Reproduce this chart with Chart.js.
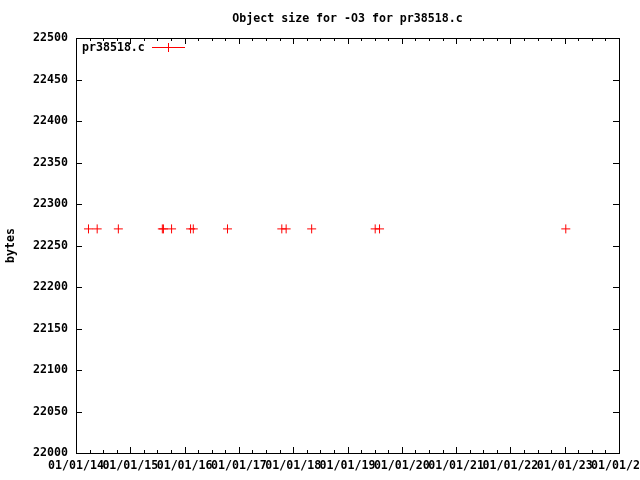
<!DOCTYPE html>
<html>
<head>
<meta charset="utf-8">
<script src="https://cdn.jsdelivr.net/npm/chart.js@4/dist/chart.umd.min.js"></script>
<style>
  body { margin: 0; background: #fff; }
  #wrap { width: 640px; height: 480px; }
</style>
</head>
<body>
<div id="wrap"><canvas id="chart" width="640" height="480"></canvas></div>
<script>
// data (x = decimal year)
var series_name = 'pr38518.c'
var chart_title = 'Object size for -O3 for pr38518.c'
var dates = [2014.23, 2014.39, 2014.78, 2015.59, 2015.61, 2015.76, 2016.11, 2016.16, 2016.79, 2017.79, 2017.87, 2018.34, 2019.51, 2019.59, 2023.02]
var sizes = [22270, 22270, 22270, 22270, 22270, 22270, 22270, 22270, 22270, 22270, 22270, 22270, 22270, 22270, 22270]
var x_range = [2014, 2024]
var y_range = [22000, 22500]

var FONT = 'DejaVu Sans Mono'
Chart.defaults.color = '#000'
Chart.defaults.font.family = FONT
Chart.defaults.font.size = 11.6
Chart.defaults.font.weight = 'bold'

// gnuplot-ish frame: inward ticks on all four sides + border, title over the plot, key
var framePlugin = {
    id: 'frame',
    afterDraw: function (chart) {
        var ctx = chart.ctx
        var a = chart.chartArea
        var xs = chart.scales.x
        var ys = chart.scales.y
        ctx.save()
        ctx.strokeStyle = '#000'
        ctx.lineWidth = 1
        ctx.beginPath()
        for (var v = x_range[0]; v <= x_range[1] + 0.001; v += 0.25) {
            var px = Math.round(xs.getPixelForValue(v)) + 0.5
            var len = Math.abs(v - Math.round(v)) < 0.01 ? 6 : 3
            ctx.moveTo(px, a.bottom); ctx.lineTo(px, a.bottom - len)
            ctx.moveTo(px, a.top); ctx.lineTo(px, a.top + len)
        }
        ys.ticks.forEach(function (t) {
            var py = Math.round(ys.getPixelForValue(t.value)) + 0.5
            ctx.moveTo(a.left, py); ctx.lineTo(a.left + 6, py)
            ctx.moveTo(a.right, py); ctx.lineTo(a.right - 6, py)
        })
        ctx.stroke()
        ctx.strokeRect(Math.round(a.left) + 0.5, Math.round(a.top) + 0.5,
            Math.round(a.right - a.left), Math.round(a.bottom - a.top))

        ctx.font = 'bold 11.6px ' + FONT
        ctx.fillStyle = '#000'
        ctx.textBaseline = 'middle'
        ctx.textAlign = 'center'
        ctx.fillText(chart_title, (a.left + a.right) / 2, 19)

        // key, top left inside the plot
        ctx.textAlign = 'left'
        ctx.fillText(series_name, a.left + 6, a.top + 10)
        ctx.strokeStyle = '#ff0000'
        ctx.beginPath()
        ctx.moveTo(a.left + 76, a.top + 9.5); ctx.lineTo(a.left + 109, a.top + 9.5)
        ctx.moveTo(a.left + 92.5, a.top + 5); ctx.lineTo(a.left + 92.5, a.top + 14)
        ctx.stroke()
        ctx.restore()
    }
}

var ctx = document.getElementById('chart').getContext('2d')
var chart = new Chart(ctx, {
    type: 'scatter',
    data: {
        datasets: [{
            label: series_name,
            data: dates.map(function (d, i) { return {x: d, y: sizes[i]} }),
            pointStyle: 'cross',
            pointRadius: 4.5,
            pointHoverRadius: 4.5,
            borderColor: '#ff0000',
            backgroundColor: '#ff0000',
            borderWidth: 1,
            showLine: false
        }]
    },
    options: {
        responsive: false,
        animation: false,
        layout: { padding: { left: 0, right: 21, top: 38, bottom: 0 } },
        plugins: {
            legend: { display: false },
            tooltip: { enabled: false },
            title: { display: false }
        },
        scales: {
            x: {
                type: 'linear',
                min: x_range[0],
                max: x_range[1],
                grid: { display: false, drawTicks: false },
                border: { display: false },
                ticks: {
                    stepSize: 1,
                    autoSkip: false,
                    maxRotation: 0,
                    padding: 6,
                    callback: function (v) { return '01/01/' + String(v).slice(2) }
                },
                afterFit: function (s) { s.height = 27; s.paddingLeft = 0; s.paddingRight = 0 }
            },
            y: {
                min: y_range[0],
                max: y_range[1],
                grid: { display: false, drawTicks: false },
                border: { display: false },
                ticks: {
                    stepSize: 50,
                    padding: 8,
                    callback: function (v) { return String(v) }
                },
                title: {
                    display: true,
                    text: 'bytes',
                    font: { size: 11.6, weight: 'bold' },
                    padding: { top: 4, bottom: 0 }
                },
                afterFit: function (s) { s.width = 76 }
            }
        }
    },
    plugins: [framePlugin]
})
</script>
</body>
</html>
